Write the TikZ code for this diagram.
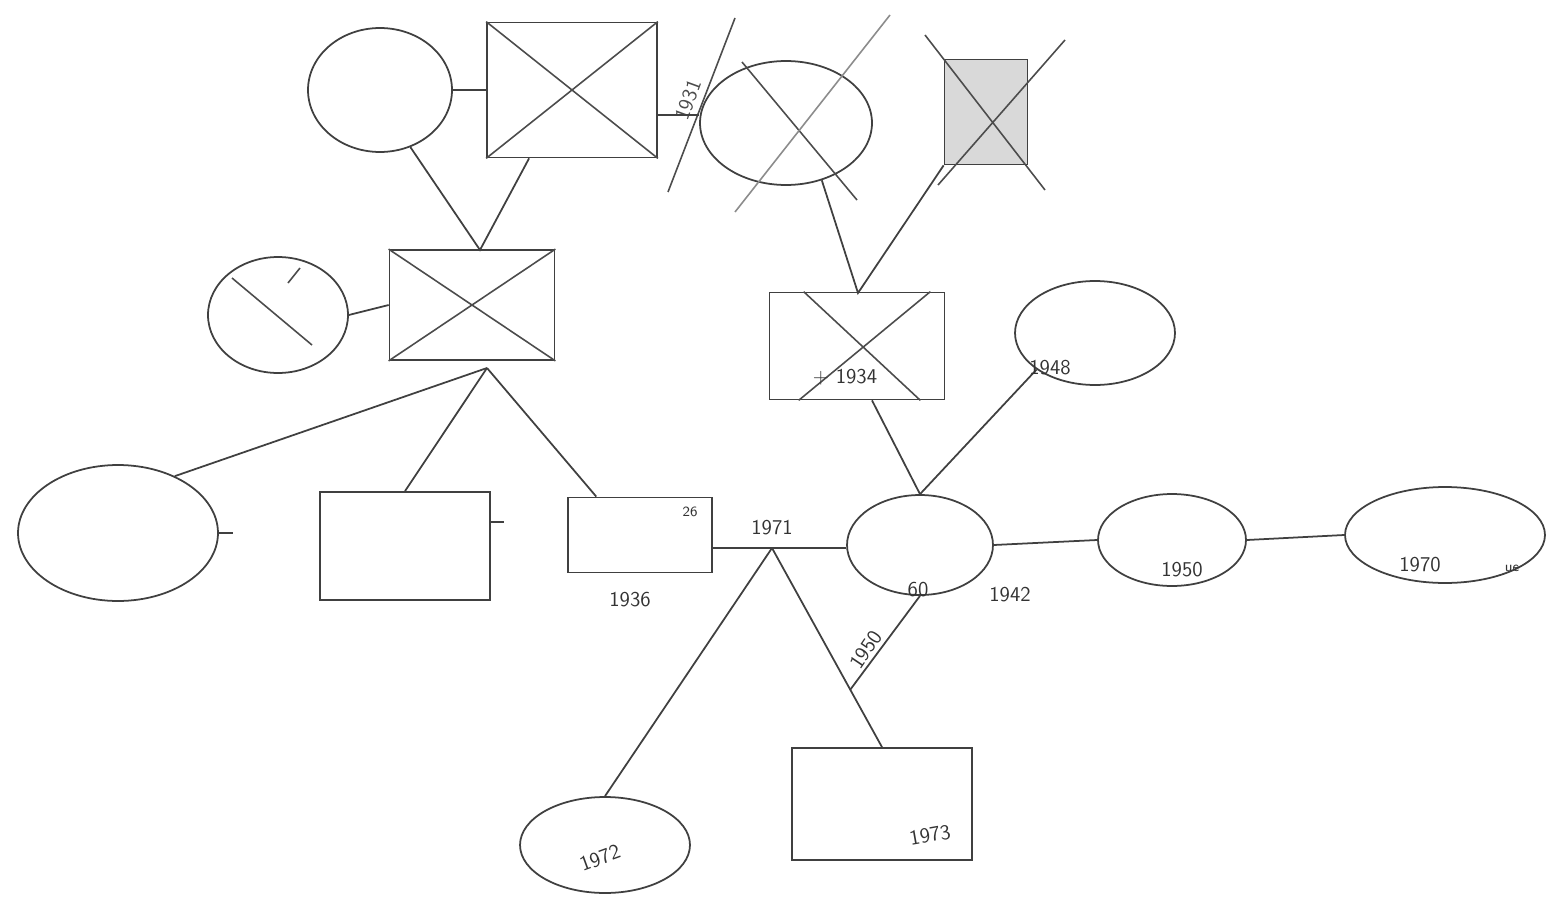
\documentclass[tikz,border=0pt]{standalone}
\usetikzlibrary{shapes.geometric,calc}
\begin{document}
\begin{tikzpicture}[x=0.02cm,y=-0.02cm,
  ln/.style={line width=1pt, draw=black!75},
  fem/.style={ellipse, ln, inner sep=0pt},
  mal/.style={rectangle, ln, inner sep=0pt},
  crs/.style={line width=0.9pt, draw=black!70},
  lbl/.style={font=\sffamily\large, text=black!80, inner sep=1pt}]
\useasboundingbox (0,0) rectangle (1552,899);
\fill[white] (0,0) rectangle (1552,899);
% top generation
\node[fem, minimum width=2.88cm, minimum height=2.48cm] (c1) at (380,90) {};
\node[mal, minimum width=3.4cm, minimum height=2.7cm] (b1) at (572,90) {};
\node[fem, minimum width=3.44cm, minimum height=2.48cm] (e1) at (786,123) {};
\node[mal, minimum width=1.66cm, minimum height=2.1cm, fill=gray!30] (b2) at (986,112) {};
% second generation
\node[fem, minimum width=2.8cm, minimum height=2.32cm] (c2) at (278,315) {};
\node[mal, minimum width=3.3cm, minimum height=2.2cm] (b3) at (472,305) {};
\node[mal, minimum width=3.5cm, minimum height=2.14cm] (b6) at (857,346) {};
\node[fem, minimum width=3.2cm, minimum height=2.08cm] (o3) at (1095,333) {};
% third generation
\node[fem, minimum width=4cm, minimum height=2.72cm] (o1) at (118,533) {};
\node[mal, minimum width=3.4cm, minimum height=2.16cm] (b4) at (405,546) {};
\node[mal, minimum width=2.88cm, minimum height=1.5cm] (b5) at (640,535) {};
\node[fem, minimum width=2.92cm, minimum height=2cm] (o2) at (920,545) {};
\node[fem, minimum width=2.96cm, minimum height=1.84cm] (o4) at (1172,540) {};
\node[fem, minimum width=4cm, minimum height=1.92cm] (o5) at (1445,535) {};
% fourth generation
\node[fem, minimum width=3.4cm, minimum height=1.92cm] (o6) at (605,845) {};
\node[mal, minimum width=3.6cm, minimum height=2.24cm] (b7) at (882,804) {};
% crosses
\draw[crs] (b1.north west) -- (b1.south east) (b1.north east) -- (b1.south west);
\draw[crs] (b3.north west) -- (b3.south east) (b3.north east) -- (b3.south west);
\draw[crs] ($(b6.north west)+(35,0)$) -- ($(b6.south east)+(-25,0)$) ($(b6.north east)+(-15,0)$) -- ($(b6.south west)+(30,0)$);
\draw[crs] (925,35) -- (1045,190) (1065,40) -- (938,185);
\draw[crs] (742,62) -- (857,200);
\draw[crs, draw=black!45] (890,15) -- (735,212);
\draw[crs] (735,18) -- (668,192);
\node[lbl, rotate=70, text=black!70] (t0) at (688,100) {1931};
\draw[crs] (232,278) -- (312,345) (300,268) -- (288,283);
% couple lines
\draw[ln] (c1.east |- b1.west) -- (b1.west);
\draw[ln] (b1.east |- 0,115) -- (e1.west |- 0,115);
\draw[ln] (c2.east) -- (b3.west);
\coordinate (m1) at (772,548);
\draw[ln] (b5.east |- m1) -- (m1) -- (o2.west |- m1);
\draw[ln] (o2.east) -- (o4.west);
\draw[ln] (o4.east) -- (o5.west);
% parent-child lines
\coordinate (j1) at (480,250);
\draw[ln] (c1.-62) -- (j1) -- ($(b1.south west)!0.25!(b1.south east)$);
\coordinate (j3) at (858,293);
\draw[ln] (e1.-58) -- (j3) -- (b2.south west);
\coordinate (j2) at (487,368);
\draw[ln] (o1.45) -- (j2);
\draw[ln] (b4.north) -- (j2);
\draw[ln] ($(b5.north west)!0.2!(b5.north east)$) -- (j2);
\draw[ln] ($(b6.south)+(15,0)$) -- (o2.north);
\draw[ln] (o3.-148) -- (o2.north);
\draw[ln] (m1) -- (o6.north);
\draw[ln] (m1) -- (b7.north);
\coordinate (d1) at (850,690);
\draw[ln] (o2.south) -- (d1);
% ticks
\draw[ln] (o1.east) -- ++(14,0);
\draw[ln] (b4.east) ++(0,-24) -- ++(13,0);
% labels
\node[lbl] (l1) at (845,377) {+ 1934};
\node[lbl] (l2) at (1050,368) {1948};
\node[lbl] (l3) at (630,600) {1936};
\node[lbl, font=\sffamily\footnotesize] (l4) at (690,512) {26};
\node[lbl] (l5) at (772,528) {1971};
\node[lbl] (l6) at (918,590) {60};
\node[lbl] (l7) at (1010,595) {1942};
\node[lbl, rotate=56] (l8) at (866,650) {1950};
\node[lbl] (l9) at (1182,570) {1950};
\node[lbl] (l10) at (1420,565) {1970};
\node[lbl, font=\sffamily\footnotesize] (l11) at (1512,568) {ue};
\node[lbl, rotate=20] (l12) at (600,858) {1972};
\node[lbl, rotate=10] (l13) at (930,835) {1973};
\end{tikzpicture}
\end{document}
